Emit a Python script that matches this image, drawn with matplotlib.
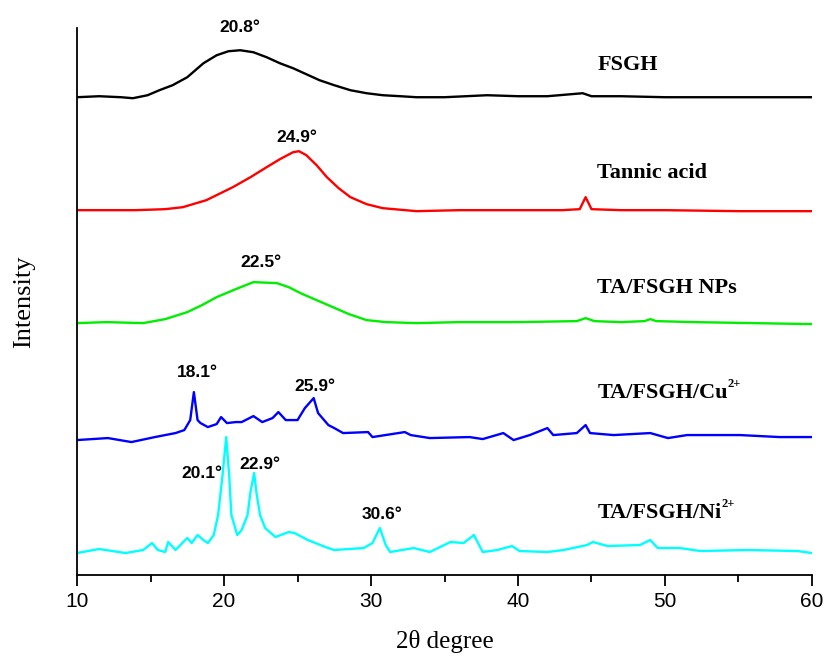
import matplotlib
matplotlib.use('Agg')
import matplotlib.pyplot as plt

# XRD patterns, stacked (intensity in a.u., offsets already included)
fsgh_x = [10, 11.5, 13, 13.8, 14.8, 15.6, 16.5, 17.5, 18.6, 19.5,
          20.3, 21.1, 22, 22.9, 23.8, 24.7, 25.6, 26.5, 27.5, 28.6,
          29.7, 30.8, 32, 33.1, 35, 37.9, 40, 42, 44.4, 45,
          47, 50, 53, 56, 60]
fsgh_y = [478, 479, 478, 477, 480, 485, 490, 498, 512, 520,
          524, 525, 523, 518, 512, 507, 501, 495, 490, 485,
          482, 480, 479, 478, 478, 480, 479, 479, 482, 479,
          479, 478, 478, 478, 478]

ta_x = [10, 12, 14, 16, 17.2, 18.8, 20.6, 21.8, 22.9, 23.8,
        24.7, 25.1, 25.6, 26.3, 27, 27.8, 28.6, 29.7, 30.8, 33.1,
        36, 40, 43, 44.2, 44.6, 45, 47, 50, 55, 60]
ta_y = [365, 365, 365, 366, 368, 375, 388, 398, 408, 416,
        423, 424, 420, 410, 398, 387, 378, 371, 367, 364,
        365, 365, 365, 366, 378, 366, 365, 365, 364, 364]

np_x = [10, 12, 14.5, 16, 17.5, 18.5, 19.5, 20.8, 22, 23.6,
        24.4, 25.2, 26.3, 27.4, 28.5, 29.7, 31, 33.1, 36, 40,
        44, 44.6, 45.2, 47, 48.6, 49, 49.4, 52, 56, 60]
np_y = [252, 253, 252, 256, 263, 270, 278, 286, 293, 292,
        288, 282, 275, 268, 261, 255, 253, 252, 253, 253,
        254, 257, 254, 253, 254, 256, 254, 253, 252, 251]

cu_x = [10, 12.1, 13.7, 15.3, 16.7, 17.3, 17.7, 17.95, 18.2, 18.4,
        18.9, 19.5, 19.8, 20.2, 20.8, 21.2, 22, 22.6, 23.3, 23.7,
        24.2, 25, 25.5, 26.1, 26.4, 27.1, 27.5, 28.1, 29.8, 30.1,
        32.3, 32.7, 34, 36.7, 37.6, 39, 39.7, 40.8, 42, 42.4,
        44, 44.6, 44.9, 46.5, 49, 50.2, 51.5, 55.1, 57.8, 60]
cu_y = [135, 137, 133, 138, 142, 145, 155, 183, 155, 152,
        148, 151, 158, 152, 153, 153, 159, 153, 157, 163,
        155, 155, 167, 177, 162, 150, 147, 142, 143, 138,
        143, 140, 137, 138, 136, 142, 135, 140, 147, 140,
        142, 150, 142, 140, 142, 137, 140, 140, 138, 138]

ni_x = [10, 11.5, 13.3, 14.5, 15.1, 15.5, 16, 16.2, 16.7, 17.5,
        17.8, 18.2, 18.6, 18.9, 19.3, 19.6, 19.9, 20.15, 20.35, 20.5,
        20.9, 21.2, 21.6, 21.8, 22.05, 22.2, 22.45, 22.8, 23.5, 24.4,
        24.8, 25.7, 26.9, 27.5, 29.5, 30.1, 30.6, 31, 31.3, 32.9,
        34, 35.4, 36.3, 37, 37.6, 38.6, 39.6, 40.1, 42, 43.1,
        44.7, 45.1, 46.1, 48.3, 49, 49.5, 51, 52.4, 55.6, 59, 60]
ni_y = [22, 26, 22, 25, 32, 25, 23, 33, 25, 37,
        32, 40, 35, 32, 40, 60, 100, 138, 100, 60,
        40, 45, 60, 83, 102, 83, 60, 47, 38, 43,
        42, 35, 28, 25, 27, 32, 47, 30, 23, 27,
        23, 33, 32, 40, 23, 25, 29, 24, 23, 25,
        30, 33, 29, 30, 35, 27, 27, 24, 25, 24, 22]

names = ['FSGH', 'Tannic acid', 'TA/FSGH NPs', 'TA/FSGH/Cu', 'TA/FSGH/Ni']
name_sup = ['', '', '', '2+', '2+']
colors = ['black', '#ff0000', '#00ee00', '#0000ff', '#00ffff']
name_y = [510, 402, 287, 182, 62]

peak_labels = ['20.8°', '24.9°', '22.5°', '18.1°', '25.9°', '20.1°', '22.9°', '30.6°']
peak_lx = [21.1, 24.97, 22.5, 18.2, 26.2, 18.5, 22.45, 30.75]
peak_ly = [548, 438, 313, 203, 189, 102, 111, 61]

fig = plt.figure(figsize=(8.3, 6.57), dpi=100)
ax = fig.add_axes([0.0928, 0.1248, 0.8855, 0.8322])

series = [(fsgh_x, fsgh_y), (ta_x, ta_y), (np_x, np_y), (cu_x, cu_y), (ni_x, ni_y)]
for (xs, ys), c in zip(series, colors):
    ax.plot(xs, ys, color=c, lw=1.7)

for n, sup, yy in zip(names, name_sup, name_y):
    t = ax.text(45.4, yy, n, fontsize=16, fontweight='bold', family='Liberation Serif',
                ha='left', va='center')
    if sup:
        ax.annotate(sup, xy=(1.0, 0.95), xycoords=t, fontsize=9, fontweight='bold',
                    family='Liberation Serif', ha='left', va='center')

for t, lx, ly in zip(peak_labels, peak_lx, peak_ly):
    ax.text(lx, ly, t, fontsize=12.5, fontweight='bold', family='Liberation Sans',
            ha='center', va='center', clip_on=False)

ax.set_xlim(10, 60)
ax.set_ylim(0, 547)
ax.spines['top'].set_visible(False)
ax.spines['right'].set_visible(False)
for s in ['left', 'bottom']:
    ax.spines[s].set_linewidth(1.3)
ax.set_yticks([])
ax.set_xticks([10, 20, 30, 40, 50, 60])
ax.set_xticks([15, 25, 35, 45, 55], minor=True)
ax.tick_params(axis='x', which='major', direction='out', length=8, width=1.3, pad=4)
ax.tick_params(axis='x', which='minor', direction='out', length=5, width=1.3)
for lab in ax.get_xticklabels():
    lab.set_fontsize(15)
    lab.set_family('Liberation Sans')

ax.set_xlabel('2θ degree', fontsize=18, family='Liberation Serif', labelpad=14)
ax.set_ylabel('Intensity', fontsize=19, family='Liberation Serif', labelpad=30)

fig.savefig('out.png', dpi=100)
